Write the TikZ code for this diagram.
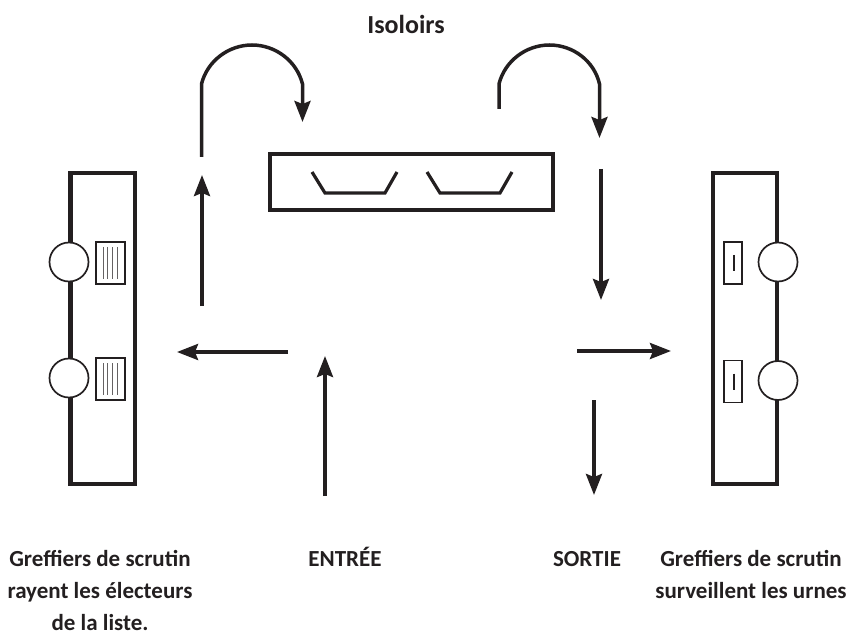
\documentclass[tikz,border=0pt]{standalone}
\usepackage{fontspec}
\setmainfont{Carlito}
\usetikzlibrary{arrows.meta}
\definecolor{ink}{HTML}{231F20}
\tikzset{
  flow/.style={draw=ink,line width=3.5pt,-{Stealth[length=21pt,width=16pt,inset=3pt]}},
  stem/.style={draw=ink,line width=3.2pt},
  desk/.style={draw=ink,line width=4.2pt},
  clerk/.style={draw=ink,line width=1.7pt,fill=white},
  sheet/.style={draw=ink,line width=1.6pt,fill=white},
  tick/.style={draw=ink!70,line width=1pt},
  caption/.style={font=\bfseries\fontsize{23}{32}\selectfont,text=ink,align=center,inner sep=0pt,text depth=0pt}
}
\begin{document}
\begin{tikzpicture}[x=1pt,y=-1pt]
  \useasboundingbox (0,0) rectangle (849,631);

  % Isoloirs
  \draw[desk,line width=3.4pt] (270,154) rectangle (553,210);
  \foreach \x in {0,115}
    \draw[stem] (312+\x,172) -- (325+\x,193) -- (385+\x,193) -- (397+\x,172);

  % left table
  \draw[desk] (70.5,483.7) -- (70.5,173) -- (135,173) -- (135,483.7) -- cycle;
  \foreach \y/\h in {262/242,378/358} {
    \draw[clerk] (69,\y) circle (19.5);
    \draw[sheet] (96,\h) rectangle (125,\h+42);
    \foreach \x in {103,107.5,112,117}
      \draw[tick] (\x,\h+5) -- (\x,\h+37);
  }

  % right table
  \draw[desk] (713,483.7) -- (713,173) -- (777,173) -- (777,483.7) -- cycle;
  \foreach \y/\h in {262/242,380.5/360.5} {
    \draw[clerk] (778,\y) circle (19.5);
    \draw[sheet] (724,\h) rectangle (742,\h+42);
    \draw[draw=ink,line width=1.3pt] (734,\h+13) -- (734,\h+29);
  }

  % way through
  \coordinate (in) at (325,496);
  \coordinate (in end) at (325,356);
  \coordinate (fork) at (288,352);
  \coordinate (fork end) at (177,352);
  \coordinate (up) at (202,306);
  \coordinate (up end) at (202,175);
  \coordinate (back) at (601,169);
  \coordinate (back end) at (601,300);
  \coordinate (right) at (577,351);
  \coordinate (right end) at (671,351);
  \coordinate (out) at (594,400);
  \coordinate (out end) at (594,495);
  \draw[flow] (in) -- (in end);
  \draw[flow] (fork) -- (fork end);
  \draw[flow] (up) -- (up end);
  \draw[flow] (back) -- (back end);
  \draw[flow] (right) -- (right end);
  \draw[flow] (out) -- (out end);

  % loops over the booths
  \draw[flow] (201.5,157) -- (201.5,84) .. controls (207.2,61.1) and (228.4,45) .. (252,45)
    .. controls (275.6,45) and (296.8,61.1) .. (302.5,84) -- (302.5,122);
  \draw[flow] (499,109) -- (499,84) .. controls (504.7,61.1) and (525.9,45) .. (549.5,45)
    .. controls (573.1,45) and (594.3,61.1) .. (599.5,84) -- (599.5,138);

  % labels
  \node[caption,font=\bfseries\fontsize{26}{31}\selectfont] (isoloirs) at (406,24) {Isoloirs};
  \node[caption,anchor=base] (entree) at (345,566) {ENTRÉE};
  \node[caption,anchor=base] (sortie) at (587,566) {SORTIE};
  \node[caption,anchor=north] (left text) at (100,550) {Greffiers de scrutin\\rayent les électeurs\\de la liste.};
  \node[caption,anchor=north] (right text) at (751,550) {Greffiers de scrutin\\surveillent les urnes};
\end{tikzpicture}
\end{document}
